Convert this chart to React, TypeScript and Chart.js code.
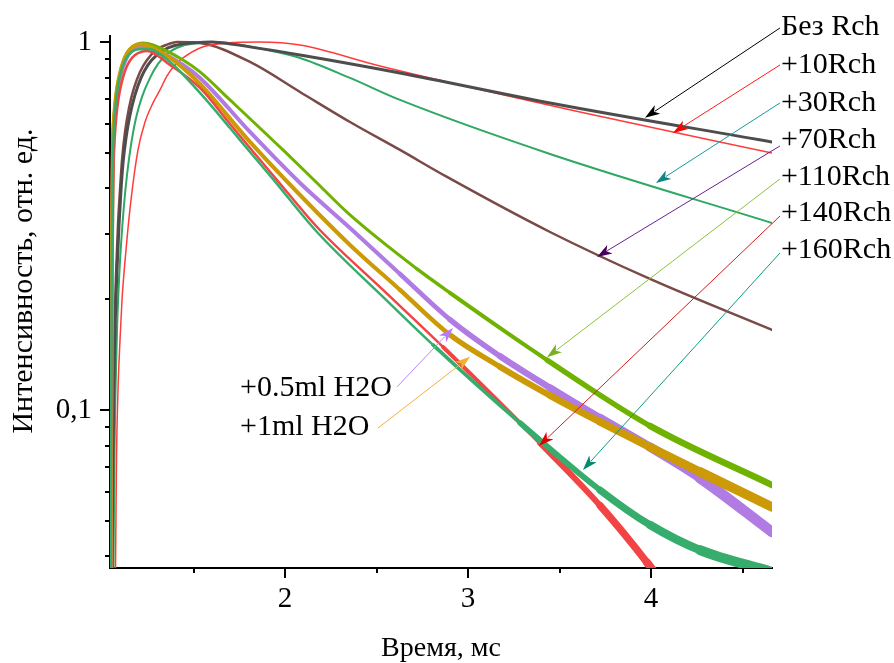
import React, { useEffect, useRef } from 'react';
import { Chart, registerables } from 'chart.js';

Chart.register(...registerables);

// ---------------- data ----------------
const seriesNames = ['Без Rch', '+10Rch', '+30Rch', '+70Rch', '+110Rch', '+140Rch', '+160Rch', '+0.5ml H2O', '+1ml H2O'];

const bezRchX = [1.0519, 1.0546, 1.0601, 1.0656, 1.071, 1.082, 1.0929, 1.1038, 1.1148, 1.1311, 1.153, 1.1803, 1.2131, 1.2514, 1.3005, 1.3607, 1.4372, 1.5355, 1.6, 1.716, 2.082, 2.6284, 3.4481, 4.6612];
const bezRchY = [0.0305, 0.0372, 0.0778, 0.1207, 0.165, 0.2401, 0.3181, 0.3961, 0.469, 0.5485, 0.6333, 0.7178, 0.7985, 0.866, 0.9219, 0.9632, 0.9876, 0.9969, 1.0, 0.985, 0.9219, 0.8237, 0.6829, 0.5349];

const rch10X = [1.071, 1.0738, 1.0792, 1.0874, 1.0984, 1.1093, 1.1311, 1.1585, 1.1967, 1.235, 1.2787, 1.3169, 1.3552, 1.3989, 1.4426, 1.5355, 1.6831, 1.8634, 2.082, 2.519, 3.612, 4.6612];
const rch10Y = [0.0305, 0.0372, 0.0731, 0.1133, 0.1549, 0.199, 0.2721, 0.3721, 0.5088, 0.6061, 0.6829, 0.7406, 0.8084, 0.866, 0.9048, 0.9632, 0.9938, 1.0, 0.9814, 0.8606, 0.6453, 0.4993];

const rch30X = [1.0601, 1.0628, 1.0683, 1.0738, 1.082, 1.0929, 1.1038, 1.1202, 1.1366, 1.1585, 1.1858, 1.2186, 1.2623, 1.306, 1.3607, 1.4372, 1.5355, 1.6175, 1.9016, 2.082, 2.3552, 2.6284, 3.4481, 4.6612];
const rch30Y = [0.0305, 0.0372, 0.0778, 0.1133, 0.165, 0.2255, 0.2808, 0.3606, 0.435, 0.525, 0.6216, 0.7089, 0.7985, 0.8715, 0.9335, 0.9753, 0.9938, 1.0, 0.9512, 0.9048, 0.7985, 0.6958, 0.4962, 0.3222];

const rch70X = [1.0492, 1.0519, 1.0574, 1.0628, 1.0683, 1.0765, 1.0874, 1.0984, 1.1093, 1.1257, 1.1475, 1.1749, 1.2077, 1.2459, 1.2951, 1.3497, 1.4098, 1.5355, 1.8087, 2.082, 2.3552, 2.6284, 2.8852, 3.4481, 3.9945, 4.6612];
const rch70Y = [0.0305, 0.0372, 0.0778, 0.1207, 0.165, 0.2327, 0.3181, 0.3961, 0.4778, 0.5693, 0.6617, 0.7499, 0.829, 0.8935, 0.9512, 0.9814, 1.0, 0.9938, 0.8824, 0.7313, 0.6061, 0.5088, 0.4297, 0.3045, 0.227, 0.165];

const rch110X = [1.0464, 1.0492, 1.0519, 1.0546, 1.0574, 1.0601, 1.0656, 1.0738, 1.0847, 1.0984, 1.1148, 1.1366, 1.1639, 1.1967, 1.224, 1.2787, 1.4426, 1.5355, 1.6995, 1.9891, 2.1639, 2.3552, 2.7213, 2.9016, 3.4317, 3.9945, 4.6612];
const rch110Y = [0.0305, 0.0778, 0.165, 0.2897, 0.4217, 0.5418, 0.6216, 0.6958, 0.7641, 0.8237, 0.8824, 0.9335, 0.9692, 0.9876, 0.9938, 0.9814, 0.8935, 0.829, 0.6958, 0.5088, 0.419, 0.3388, 0.2416, 0.208, 0.1367, 0.0905, 0.0625];

const rch140X = [1.0474, 1.0505, 1.0533, 1.056, 1.0601, 1.0656, 1.0738, 1.0847, 1.0984, 1.1148, 1.1366, 1.1639, 1.1967, 1.2459, 1.3716, 1.5355, 1.6995, 1.8087, 1.9563, 2.1749, 2.5355, 2.8634, 3.3934, 3.7213, 3.9781, 4.1585];
const rch140Y = [0.0305, 0.0778, 0.165, 0.28, 0.4, 0.5, 0.59, 0.67, 0.74, 0.8, 0.86, 0.905, 0.932, 0.945, 0.866, 0.7499, 0.5986, 0.5152, 0.4217, 0.3142, 0.2119, 0.1483, 0.0813, 0.055, 0.0385, 0.029];

const rch160X = [1.0464, 1.0492, 1.0519, 1.0546, 1.0574, 1.0601, 1.0656, 1.0738, 1.0847, 1.0984, 1.1148, 1.1366, 1.1639, 1.1967, 1.2514, 1.3716, 1.5355, 1.6995, 1.8087, 1.929, 2.1749, 2.5355, 2.8087, 3.2842, 3.7213, 3.9945, 4.2678, 4.6612];
const rch160Y = [0.0305, 0.0778, 0.165, 0.2897, 0.4, 0.5, 0.59, 0.67, 0.745, 0.81, 0.865, 0.91, 0.94, 0.955, 0.9572, 0.8824, 0.7268, 0.5837, 0.5024, 0.4271, 0.3045, 0.2028, 0.1502, 0.0922, 0.0606, 0.0487, 0.0416, 0.0363];

const h2o05X = [1.0464, 1.0492, 1.0519, 1.0546, 1.0574, 1.0601, 1.0656, 1.0738, 1.0847, 1.0984, 1.1148, 1.1366, 1.1639, 1.1967, 1.224, 1.2787, 1.4426, 1.5355, 1.8087, 2.082, 2.3552, 2.6284, 2.9016, 3.1749, 3.4481, 3.7213, 3.9945, 4.2678, 4.6612];
const h2o05Y = [0.0305, 0.0778, 0.165, 0.2897, 0.4, 0.5, 0.59, 0.67, 0.74, 0.8, 0.855, 0.91, 0.948, 0.967, 0.97, 0.958, 0.866, 0.7985, 0.5693, 0.4138, 0.3122, 0.2342, 0.176, 0.14, 0.1148, 0.0951, 0.0793, 0.0653, 0.0466];

const h2o1X = [1.0464, 1.0492, 1.0519, 1.0546, 1.0574, 1.0601, 1.0656, 1.0738, 1.0847, 1.0984, 1.1148, 1.1366, 1.1639, 1.1967, 1.224, 1.2787, 1.3716, 1.4426, 1.5355, 1.8087, 2.082, 2.3552, 2.6284, 2.9016, 3.1749, 3.4481, 3.7213, 3.9945, 4.2678, 4.6612];
const h2o1Y = [0.0305, 0.0778, 0.165, 0.2897, 0.42, 0.54, 0.62, 0.69, 0.76, 0.82, 0.878, 0.93, 0.966, 0.985, 0.985, 0.9632, 0.9048, 0.8498, 0.7688, 0.5349, 0.3838, 0.2808, 0.2119, 0.1599, 0.131, 0.1095, 0.0928, 0.0793, 0.0679, 0.0545];

// axis
const xMin = 1.0437;
const xMax = 4.6612;
const yMin = 0.0372;
const yMax = 1.038;
const xTickValues = [2, 3, 4];
const xMinorTickValues = [1.5, 2.5, 3.5, 4.5];
const yTickValues = [0.1, 1];
const yTickLabels = ['0,1', '1'];
const yMinorTickValues = [0.04, 0.05, 0.06, 0.07, 0.08, 0.09, 0.2, 0.3, 0.4, 0.5, 0.6, 0.7, 0.8, 0.9];
const xTitle = 'Время, мс';
const yTitle = 'Интенсивность, отн. ед.';

// annotations: label text, label anchor, leader start, arrow tip (all in data units)
const annotations = [
  { text: 'Без Rch', tx: 4.71, ty: 1.0983, align: 'left', sx: 4.705, sy: 1.0915, ex: 3.967, ey: 0.622, line: '#000000', head: '#000000' },
  { text: '+10Rch', tx: 4.71, ty: 0.866, align: 'left', sx: 4.705, sy: 0.866, ex: 4.12, ey: 0.566, line: '#ff1a1a', head: '#ff0000' },
  { text: '+30Rch', tx: 4.71, ty: 0.6829, align: 'left', sx: 4.705, sy: 0.6829, ex: 4.027, ey: 0.414, line: '#169b9b', head: '#0f8585' },
  { text: '+70Rch', tx: 4.71, ty: 0.5418, align: 'left', sx: 4.705, sy: 0.5217, ex: 3.705, ey: 0.2605, line: '#6a1f8f', head: '#45005a' },
  { text: '+110Rch', tx: 4.71, ty: 0.4297, align: 'left', sx: 4.705, sy: 0.4244, ex: 3.432, ey: 0.139, line: '#8cc23a', head: '#78b020' },
  { text: '+140Rch', tx: 4.71, ty: 0.343, align: 'left', sx: 4.705, sy: 0.3366, ex: 3.388, ey: 0.0798, line: '#d61a1a', head: '#e00000' },
  { text: '+160Rch', tx: 4.71, ty: 0.2721, align: 'left', sx: 4.705, sy: 0.2671, ex: 3.628, ey: 0.0687, line: '#0f9a80', head: '#008a70' },
  { text: '+0.5ml H2O', tx: 1.754, ty: 0.1148, align: 'left', sx: 2.612, sy: 0.1155, ex: 2.918, ey: 0.167, line: '#bb88ff', head: '#b57aff' },
  { text: '+1ml H2O', tx: 1.754, ty: 0.0899, align: 'left', sx: 2.508, sy: 0.0893, ex: 3.011, ey: 0.1394, line: '#f0b040', head: '#f0b030' },
];

const serif = '"Liberation Serif", "Times New Roman", serif';

function pts(xs: number[], ys: number[]) {
  return xs.map((x, i) => ({ x, y: ys[i] }));
}

// line width that widens along time, to suggest the noise band of the measured traces
function widthRamp(base: number, from: number, rate: number, cap: number) {
  return (ctx: any) => {
    const xm = (ctx.p0.parsed.x + ctx.p1.parsed.x) / 2;
    return Math.min(cap, base + Math.max(0, xm - from) * rate);
  };
}

const decorPlugin = {
  id: 'decor',
  afterDraw(chart: any) {
    const { ctx, chartArea, scales } = chart;
    const xs = scales.x;
    const ys = scales.y;
    ctx.save();
    ctx.strokeStyle = '#000';
    ctx.lineWidth = 2;
    const seg = (x1: number, y1: number, x2: number, y2: number) => {
      ctx.beginPath();
      ctx.moveTo(x1, y1);
      ctx.lineTo(x2, y2);
      ctx.stroke();
    };
    for (const v of xTickValues) {
      const p = Math.round(xs.getPixelForValue(v));
      seg(p, chartArea.bottom, p, chartArea.bottom + 10);
    }
    for (const v of xMinorTickValues) {
      const p = Math.round(xs.getPixelForValue(v));
      seg(p, chartArea.bottom, p, chartArea.bottom + 5);
    }
    for (const v of yTickValues) {
      const p = Math.round(ys.getPixelForValue(v));
      seg(chartArea.left - 10, p, chartArea.left, p);
    }
    for (const v of yMinorTickValues) {
      const p = Math.round(ys.getPixelForValue(v));
      seg(chartArea.left - 5, p, chartArea.left, p);
    }

    for (const a of annotations) {
      const sx = xs.getPixelForValue(a.sx);
      const sy = ys.getPixelForValue(a.sy);
      const ex = xs.getPixelForValue(a.ex);
      const ey = ys.getPixelForValue(a.ey);
      const ang = Math.atan2(ey - sy, ex - sx);
      const c = Math.cos(ang);
      const s = Math.sin(ang);
      const hl = 15;
      const hw = 5;
      const bx = ex - hl * c;
      const by = ey - hl * s;
      ctx.strokeStyle = a.line;
      ctx.lineWidth = 1;
      seg(sx, sy, bx + 3 * c, by + 3 * s);
      ctx.fillStyle = a.head;
      ctx.beginPath();
      ctx.moveTo(ex, ey);
      ctx.lineTo(bx + hw * s, by - hw * c);
      ctx.lineTo(bx + 4 * c, by + 4 * s);
      ctx.lineTo(bx - hw * s, by + hw * c);
      ctx.closePath();
      ctx.fill();
      ctx.fillStyle = '#000';
      ctx.font = '30px ' + serif;
      ctx.textAlign = a.align;
      ctx.textBaseline = 'middle';
      ctx.fillText(a.text, xs.getPixelForValue(a.tx), ys.getPixelForValue(a.ty));
    }

    ctx.translate(24, chartArea.top + 245);
    ctx.rotate(-Math.PI / 2);
    ctx.fillStyle = '#000';
    ctx.font = '30px ' + serif;
    ctx.textAlign = 'center';
    ctx.textBaseline = 'middle';
    ctx.fillText(yTitle, 0, 0);
    ctx.restore();
  },
};

export default function App() {
  const ref = useRef<HTMLCanvasElement>(null);
  useEffect(() => {
    const mk = (i: number, xs: number[], ys: number[], color: string, width: number, order: number, seg?: any) => ({
      label: seriesNames[i],
      data: pts(xs, ys),
      borderColor: color,
      backgroundColor: color,
      borderWidth: width,
      borderCapStyle: 'round',
      borderJoinStyle: 'round',
      pointRadius: 0,
      fill: false,
      cubicInterpolationMode: 'monotone',
      order,
      ...(seg ? { segment: { borderWidth: seg } } : {}),
    });
    const chart = new Chart(ref.current as HTMLCanvasElement, {
      type: 'line',
      data: {
        datasets: [
          mk(6, rch160X, rch160Y, '#37ad6d', 3, 0, widthRamp(2.5, 2.8, 4.5, 10)),
          mk(5, rch140X, rch140Y, '#f24444', 3, 1, widthRamp(2.5, 2.8, 4.5, 10)),
          mk(8, h2o1X, h2o1Y, '#cc9a06', 4, 2, widthRamp(4, 2.6, 3, 10)),
          mk(7, h2o05X, h2o05Y, '#b07be2', 4, 3, widthRamp(4, 2.6, 3.5, 11)),
          mk(4, rch110X, rch110Y, '#6fb200', 3, 4, widthRamp(3, 2.6, 2, 7)),
          mk(0, bezRchX, bezRchY, '#4d4d4d', 3, 5),
          mk(1, rch10X, rch10Y, '#ff3b3b', 1.5, 6),
          mk(2, rch30X, rch30Y, '#2ea863', 2, 7),
          mk(3, rch70X, rch70Y, '#7a4a47', 2.5, 8),
        ] as any,
      },
      options: {
        responsive: false,
        animation: false,
        devicePixelRatio: 1,
        events: [],
        layout: { padding: { top: 36, right: 122, left: 0, bottom: 0 } },
        plugins: { legend: { display: false }, tooltip: { enabled: false } },
        scales: {
          x: {
            type: 'linear',
            min: xMin,
            max: xMax,
            bounds: 'data',
            grid: { display: false, drawTicks: false },
            border: { display: true, color: '#000', width: 2 },
            afterFit: (s: any) => { s.height = 95; },
            afterBuildTicks: (s: any) => { s.ticks = xTickValues.map((v) => ({ value: v })); },
            ticks: {
              autoSkip: false,
              maxRotation: 0,
              padding: 14,
              color: '#000',
              font: { family: serif, size: 29 },
              callback: (v: any) => String(v),
            },
            title: { display: true, text: xTitle, color: '#000', font: { family: serif, size: 28 }, padding: { top: 0, bottom: -2 } },
          },
          y: {
            type: 'logarithmic',
            min: yMin,
            max: yMax,
            bounds: 'data',
            grid: { display: false, drawTicks: false },
            border: { display: true, color: '#000', width: 2 },
            afterFit: (s: any) => { s.width = 110; },
            afterBuildTicks: (s: any) => { s.ticks = yTickValues.map((v) => ({ value: v })); },
            ticks: {
              autoSkip: false,
              padding: 18,
              color: '#000',
              font: { family: serif, size: 29 },
              callback: (v: any) => {
                const i = yTickValues.indexOf(Number(v));
                return i >= 0 ? yTickLabels[i] : '';
              },
            },
          },
        },
      } as any,
      plugins: [decorPlugin],
    });
    return () => chart.destroy();
  }, []);
  return (
    <div style={{ position: 'absolute', left: 0, top: 0, width: 894, height: 663, background: '#fff' }}>
      <canvas ref={ref} width={894} height={663} style={{ display: 'block' }} />
    </div>
  );
}
